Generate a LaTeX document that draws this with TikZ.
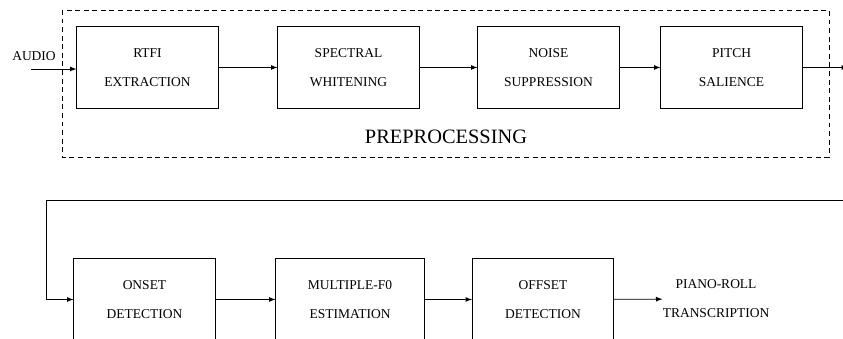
\documentclass[tikz,border=0pt]{standalone}
\usepackage{fontspec}
\setmainfont{Liberation Serif}
\usepackage{tikz}
\usetikzlibrary{positioning, arrows}
\tikzset{
	stage/.style={draw, line width=.7pt, minimum width=3.525cm, minimum height=2.025cm, align=center, inner sep=0pt, font=\fontsize{9.6}{20.5}\selectfont},
	flow/.style={line width=.6pt, -latex},
	group/.style={line width=.6pt, dash pattern=on 3.5pt off 2.6pt},
	plain/.style={align=center, inner sep=0pt, font=\fontsize{9.6}{20.5}\selectfont}
}

\begin{document}
\begin{tikzpicture}[x=0.025cm, y=-0.025cm]
\clip (0,0) rectangle (843,339);
%preprocessing
\draw[group] (62,10) rectangle (829,157);
\node[stage] (rtfi) at (147.5,67.5) {RTFI\\EXTRACTION};
\node[stage] (spec) at (348.5,67.5) {SPECTRAL\\WHITENING};
\node[stage] (noise) at (548.5,67.5) {NOISE\\SUPPRESSION};
\node[stage] (pitch) at (731.5,67.5) {PITCH\\SALIENCE};
\node[font=\fontsize{14.5}{16}\selectfont] (pre) at (446,137) {PREPROCESSING};
\node[plain] (audio) at (34,56) {AUDIO};
\coordinate (ain) at (31,69);
\coordinate (pout) at (848,67.5);
\draw[flow] (ain) -- (ain -| rtfi.west);
\draw[flow] (rtfi) -- (spec);
\draw[flow] (spec) -- (noise);
\draw[flow] (noise) -- (pitch);
\draw[flow] (pitch) -- (pout);
%transcription
\node[stage] (onset) at (144.5,299.5) {ONSET\\DETECTION};
\node[stage, minimum width=3.7cm] (multi) at (350,299.5) {MULTIPLE-F0\\ESTIMATION};
\node[stage] (offset) at (543,299.5) {OFFSET\\DETECTION};
\node[plain] (piano) at (716,299) {PIANO-ROLL\\TRANSCRIPTION};
\coordinate (fb) at (848,200);
\coordinate (fbl) at (46,200);
\draw[flow] (fb) -- (fbl) |- (onset.west);
\draw[flow] (onset) -- (multi);
\draw[flow] (multi) -- (offset);
\draw[flow] (offset) -- (piano);
\end{tikzpicture}
\end{document}
